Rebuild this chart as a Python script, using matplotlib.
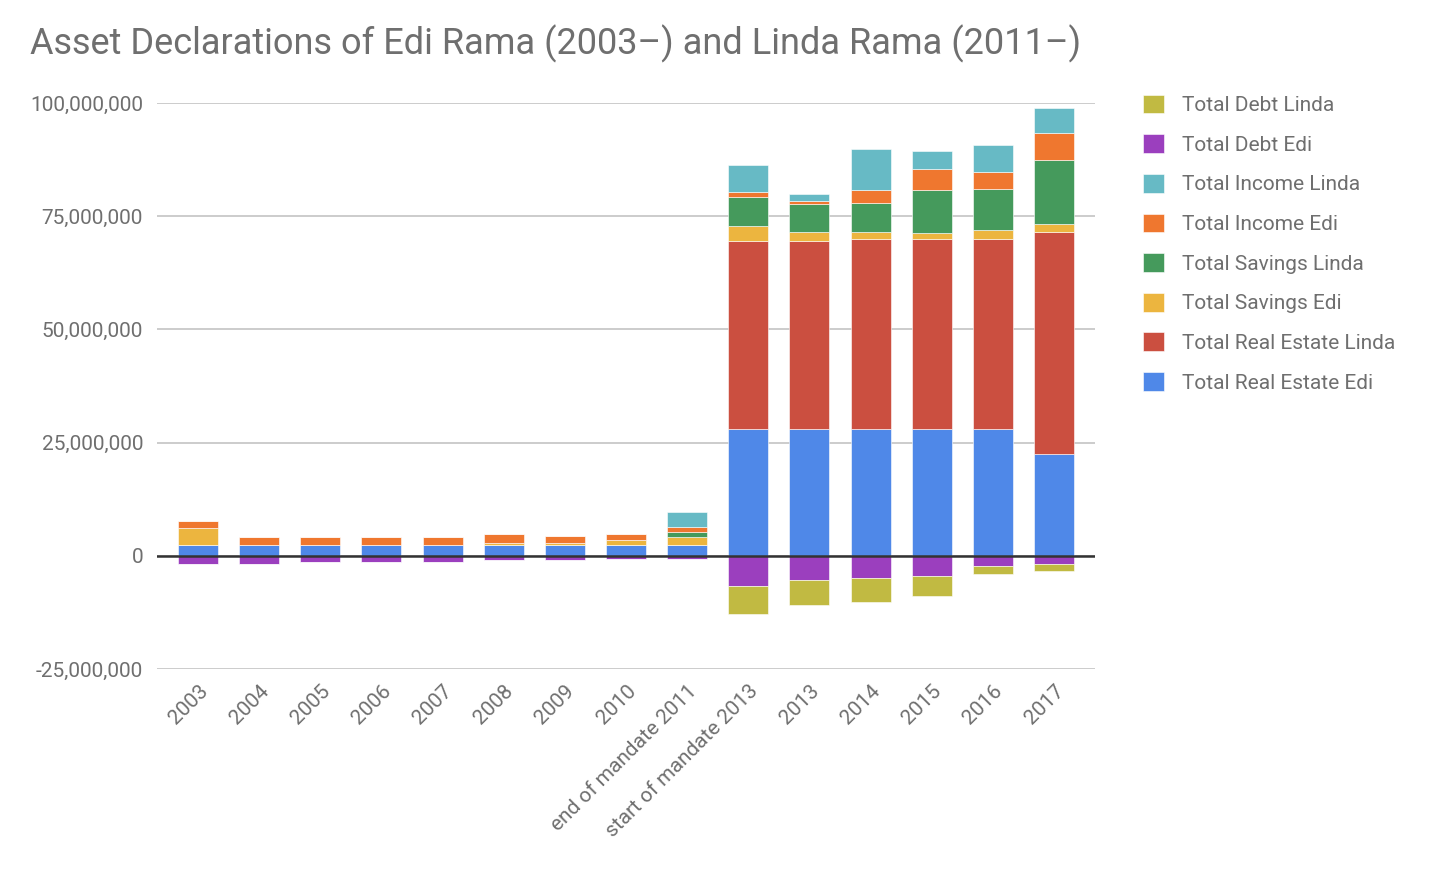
import numpy as np
import matplotlib
matplotlib.use("Agg")
import matplotlib.pyplot as plt
from matplotlib.ticker import FuncFormatter

plt.rcParams["font.family"] = ["Roboto", "DejaVu Sans"]

# categories on the x axis
categories = [
    "2003", "2004", "2005", "2006", "2007", "2008", "2009", "2010",
    "end of mandate 2011", "start of mandate 2013",
    "2013", "2014", "2015", "2016", "2017",
]

# values in millions
real_estate_edi = [2.4, 2.4, 2.4, 2.4, 2.4, 2.4, 2.4, 2.4, 2.4, 28.0, 28.0, 28.0, 28.0, 28.0, 22.4]
real_estate_linda = [0, 0, 0, 0, 0, 0, 0, 0, 0, 41.6, 41.6, 42.0, 42.0, 42.0, 49.2]
savings_edi = [3.7, 0, 0, 0, 0, 0.5, 0.5, 1.0, 1.65, 3.2, 2.0, 1.6, 1.2, 2.0, 1.6]
savings_linda = [0, 0, 0, 0, 0, 0, 0, 0, 1.15, 6.4, 6.0, 6.3, 9.5, 9.1, 14.3]
income_edi = [1.5, 1.65, 1.65, 1.65, 1.65, 2.0, 1.55, 1.5, 1.2, 1.1, 0.8, 2.8, 4.8, 3.6, 5.9]
income_linda = [0, 0, 0, 0, 0, 0, 0, 0, 3.2, 6.0, 1.6, 9.2, 4.0, 6.0, 5.6]
debt_edi = [-1.8, -1.8, -1.4, -1.4, -1.4, -1.0, -1.0, -0.6, -0.6, -6.6, -5.4, -5.0, -4.5, -2.2, -1.8]
debt_linda = [0, 0, 0, 0, 0, 0, 0, 0, 0, -6.3, -5.5, -5.1, -4.4, -1.9, -1.6]

# stacking order bottom -> top for positives, top -> bottom for negatives
positive_series = [
    ("Total Real Estate Edi", real_estate_edi, "#4f88e8"),
    ("Total Real Estate Linda", real_estate_linda, "#cb4f40"),
    ("Total Savings Edi", savings_edi, "#ecb53f"),
    ("Total Savings Linda", savings_linda, "#459a5c"),
    ("Total Income Edi", income_edi, "#ef772f"),
    ("Total Income Linda", income_linda, "#67bac5"),
]
negative_series = [
    ("Total Debt Edi", debt_edi, "#9b3fbe"),
    ("Total Debt Linda", debt_linda, "#c1ba42"),
]

text_grey = "#6f6f6f"

fig = plt.figure(figsize=(14.32, 8.72), dpi=100, facecolor="white")
ax = fig.add_axes([157 / 1432, 1 - 669 / 872, (1095 - 157) / 1432, (669 - 103) / 872])

x = np.arange(len(categories))
width = 0.655
handles = {}

bottom = np.zeros(len(categories))
for label, vals, color in positive_series:
    v = np.array(vals) * 1e6
    bars = ax.bar(x, v, width, bottom=bottom, color=color, label=label,
                  edgecolor="white", linewidth=0.4, zorder=3)
    handles[label] = bars
    bottom = bottom + v

bottom = np.zeros(len(categories))
for label, vals, color in negative_series:
    v = np.array(vals) * 1e6
    bars = ax.bar(x, v, width, bottom=bottom, color=color, label=label,
                  edgecolor="white", linewidth=0.4, zorder=3)
    handles[label] = bars
    bottom = bottom + v

ax.set_xlim(-0.67, len(categories) - 1 + 0.67)
ax.set_ylim(-25e6, 100e6)
ax.set_yticks([-25e6, 0, 25e6, 50e6, 75e6, 100e6])
ax.yaxis.set_major_formatter(FuncFormatter(lambda v, p: f"{v:,.0f}"))
ax.grid(axis="y", color="#cccccc", linewidth=1.4, zorder=0)
ax.axhline(0, color="#333333", linewidth=1.8, zorder=4)
for s in ax.spines.values():
    s.set_visible(False)
ax.tick_params(axis="both", length=0, labelsize=15, labelcolor=text_grey)
ax.tick_params(axis="y", pad=10)
ax.set_xticks(x)
ax.set_xticklabels(categories, rotation=45, ha="right", rotation_mode="anchor")
ax.tick_params(axis="x", pad=9)

fig.text(30 / 1432, 1 - 44 / 872, "Asset Declarations of Edi Rama (2003\u2013) and Linda Rama (2011\u2013)",
         fontsize=26, color=text_grey, va="center", ha="left")

legend_order = [
    "Total Debt Linda", "Total Debt Edi", "Total Income Linda", "Total Income Edi",
    "Total Savings Linda", "Total Savings Edi", "Total Real Estate Linda", "Total Real Estate Edi",
]
leg = fig.legend([handles[k] for k in legend_order], legend_order,
                 loc="upper left", bbox_to_anchor=(1124 / 1432, 1 - 76 / 872),
                 frameon=False, fontsize=15, labelcolor=text_grey,
                 handlelength=1.0, handleheight=1.0, handletextpad=0.9,
                 labelspacing=0.92)

fig.savefig("out.png", dpi=100, facecolor="white")
